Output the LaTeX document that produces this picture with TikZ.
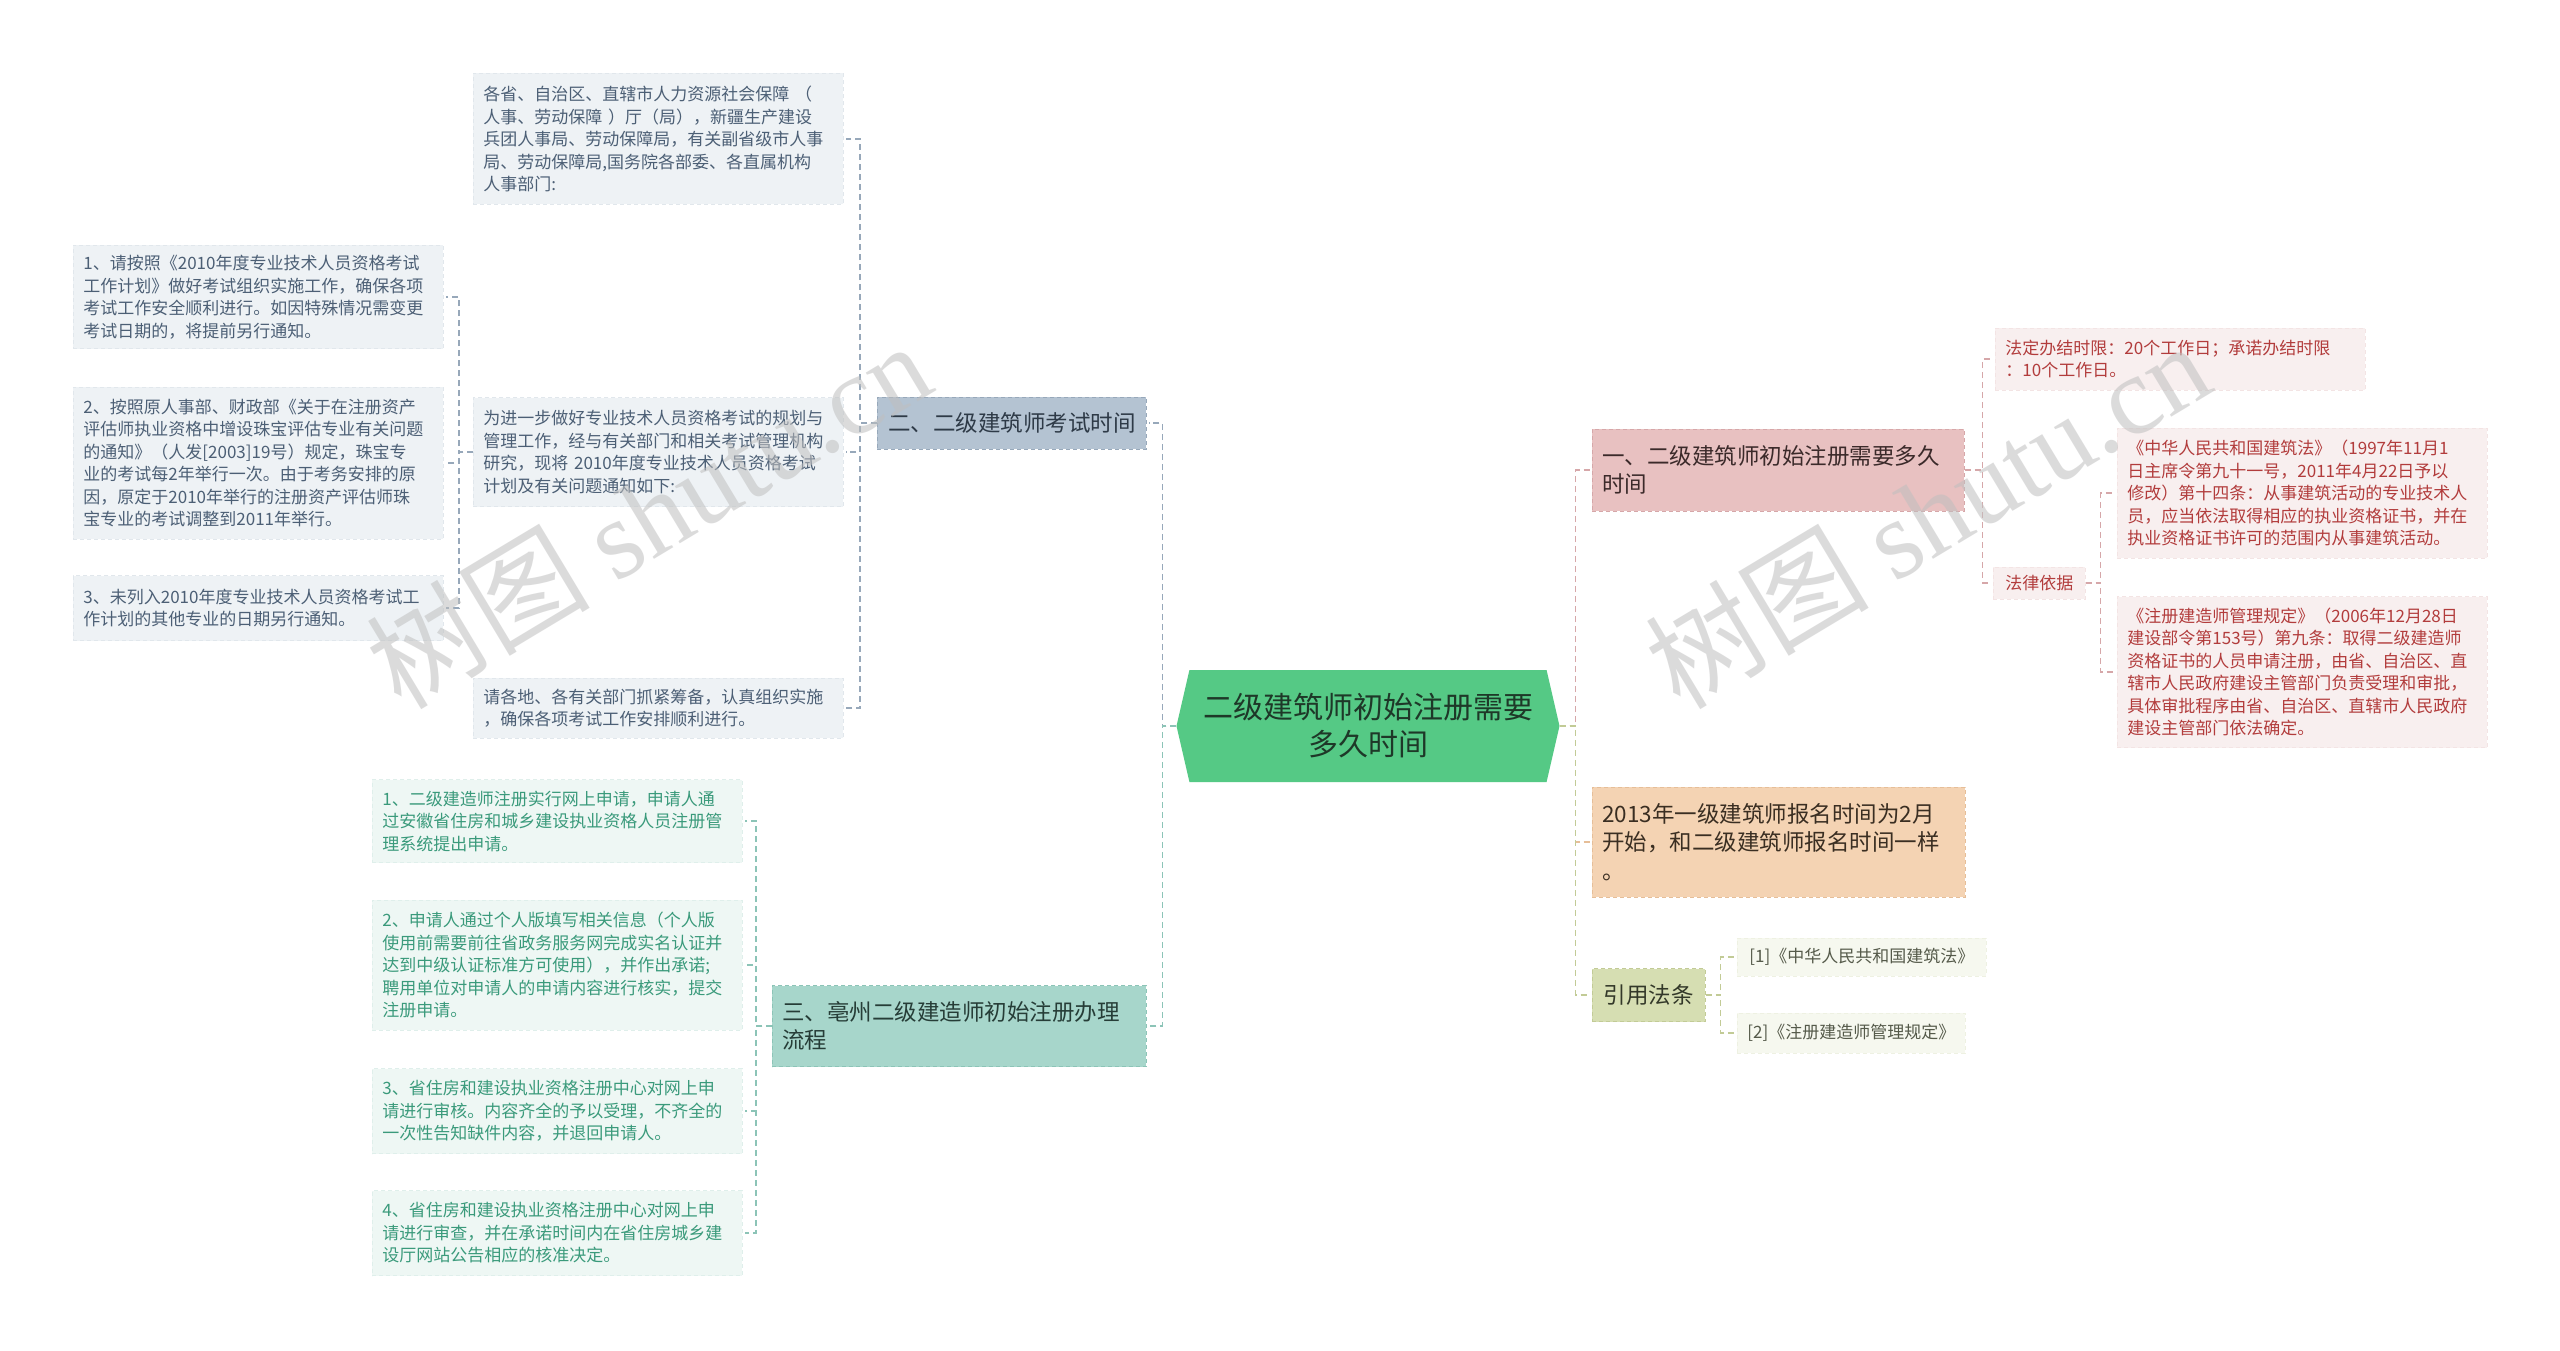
\documentclass[tikz,border=0pt]{standalone}
\usepackage{fontspec}
\setmainfont{Noto Sans CJK SC}
\newfontfamily\wmfont{Liberation Serif}
\usetikzlibrary{shapes.symbols}

\definecolor{rootF}{HTML}{55C985}
\definecolor{rootT}{HTML}{1E3828}
\definecolor{blueF}{HTML}{B4C3D2}
\definecolor{blueD}{HTML}{97A8BA}
\definecolor{blueT}{HTML}{2E3A47}
\definecolor{blueL}{HTML}{EEF2F5}
\definecolor{blueLT}{HTML}{4C5F75}
\definecolor{tealF}{HTML}{A7D6CB}
\definecolor{tealD}{HTML}{8CC4B7}
\definecolor{tealT}{HTML}{263D37}
\definecolor{tealL}{HTML}{EEF7F4}
\definecolor{tealLT}{HTML}{3A9A7B}
\definecolor{pinkF}{HTML}{E8C1C1}
\definecolor{pinkD}{HTML}{D6A7A9}
\definecolor{pinkT}{HTML}{3B2A2A}
\definecolor{pinkL}{HTML}{F8EFEF}
\definecolor{pinkLT}{HTML}{B23C3C}
\definecolor{peachF}{HTML}{F4D3B3}
\definecolor{peachD}{HTML}{E6BE98}
\definecolor{peachT}{HTML}{3A2E22}
\definecolor{khakiF}{HTML}{D6DEB2}
\definecolor{khakiD}{HTML}{C2CB96}
\definecolor{khakiT}{HTML}{333829}
\definecolor{khakiL}{HTML}{F6F8EF}
\definecolor{khakiLT}{HTML}{555A4A}

\begin{document}
\begin{tikzpicture}[x=1pt,y=-1pt,
    box/.style={anchor=west, align=left, inner xsep=10pt, inner ysep=4pt, line width=0.8pt, dash pattern=on 4pt off 3pt},
    topic/.style={box, font={\fontsize{22.5}{28.5}\selectfont}},
    leaf/.style={box, font={\fontsize{17}{22.5}\selectfont}, text width=350pt},
    blueleaf/.style={leaf, fill=blueL, draw=blueL!85!blueD, text=blueLT},
    tealleaf/.style={leaf, fill=tealL, draw=tealL!85!tealD, text=tealLT},
    pinkleaf/.style={leaf, fill=pinkL, draw=pinkL!85!pinkD, text=pinkLT},
    khakileaf/.style={box, font={\fontsize{17}{22.5}\selectfont}, fill=khakiL, draw=khakiL!85!khakiD, text=khakiLT},
    conn/.style={dash pattern=on 6pt off 4pt, line width=1.3pt, shorten >=2pt},
    wm/.style={text=black!25, opacity=0.55, font={\fontsize{112}{112}\selectfont}}]

\useasboundingbox[fill=white] (0,0) rectangle (2560,1351);

% centre
\node[shape=signal, signal to=west and east, signal pointer angle=154, fill=rootF, text=rootT,
      minimum width=383pt, minimum height=112pt, inner sep=0pt, align=center,
      font={\fontsize{30}{37}\selectfont}] (root) at (1368,726) {二级建筑师初始注册需要\\多久时间};

% left branches
\node[topic, fill=blueF, draw=blueD, text=blueT, minimum width=269pt, minimum height=52pt] (two) at (877,423) {二、二级建筑师考试时间};
\node[topic, fill=tealF, draw=tealD, text=tealT, text width=354pt, minimum height=81pt] (three) at (772,1026) {三、亳州二级建造师初始注册办理\\流程};

\node[blueleaf, minimum height=131pt] (A) at (473,139) {各省、自治区、直辖市人力资源社会保障 （\\人事、劳动保障 ）厅（局），新疆生产建设\\兵团人事局、劳动保障局，有关副省级市人事\\局、劳动保障局,国务院各部委、各直属机构\\人事部门:};
\node[blueleaf, minimum height=109pt] (B) at (473,452) {为进一步做好专业技术人员资格考试的规划与\\管理工作，经与有关部门和相关考试管理机构\\研究，现将 2010年度专业技术人员资格考试\\计划及有关问题通知如下:};
\node[blueleaf, minimum height=60pt] (C) at (473,708) {请各地、各有关部门抓紧筹备，认真组织实施\\，确保各项考试工作安排顺利进行。};

\node[blueleaf, minimum height=103pt] (B1) at (73,297) {1、请按照《2010年度专业技术人员资格考试\\工作计划》做好考试组织实施工作，确保各项\\考试工作安全顺利进行。如因特殊情况需变更\\考试日期的，将提前另行通知。};
\node[blueleaf, minimum height=152pt] (B2) at (73,463) {2、按照原人事部、财政部《关于在注册资产\\评估师执业资格中增设珠宝评估专业有关问题\\的通知》（人发[2003]19号）规定，珠宝专\\业的考试每2年举行一次。由于考务安排的原\\因，原定于2010年举行的注册资产评估师珠\\宝专业的考试调整到2011年举行。};
\node[blueleaf, minimum height=65pt] (B3) at (73,608) {3、未列入2010年度专业技术人员资格考试工\\作计划的其他专业的日期另行通知。};

\node[tealleaf, minimum height=83pt] (T1) at (372,821) {1、二级建造师注册实行网上申请，申请人通\\过安徽省住房和城乡建设执业资格人员注册管\\理系统提出申请。};
\node[tealleaf, minimum height=130pt] (T2) at (372,965) {2、申请人通过个人版填写相关信息（个人版\\使用前需要前往省政务服务网完成实名认证并\\达到中级认证标准方可使用），并作出承诺;\\聘用单位对申请人的申请内容进行核实，提交\\注册申请。};
\node[tealleaf, minimum height=85pt] (T3) at (372,1111) {3、省住房和建设执业资格注册中心对网上申\\请进行审核。内容齐全的予以受理，不齐全的\\一次性告知缺件内容，并退回申请人。};
\node[tealleaf, minimum height=85pt] (T4) at (372,1233) {4、省住房和建设执业资格注册中心对网上申\\请进行审查，并在承诺时间内在省住房城乡建\\设厅网站公告相应的核准决定。};

% right branches
\node[topic, fill=pinkF, draw=pinkD, text=pinkT, text width=352pt, minimum height=82pt] (one) at (1592,470) {一、二级建筑师初始注册需要多久\\时间};
\node[topic, fill=peachF, draw=peachD, text=peachT, text width=353pt, minimum height=110pt] (y2013) at (1592,842) {2013年一级建筑师报名时间为2月\\开始，和二级建筑师报名时间一样\\。};
\node[topic, fill=khakiF, draw=khakiD, text=khakiT, minimum width=113pt, minimum height=53pt] (cite) at (1592,995) {引用法条};

\node[pinkleaf, minimum height=62pt] (lim) at (1995,359) {法定办结时限：20个工作日；承诺办结时限\\：10个工作日。};
\node[pinkleaf, text width={}, minimum width=92pt, minimum height=32pt] (basis) at (1993,583) {法律依据};
\node[pinkleaf, minimum height=130pt] (L1) at (2117,493) {《中华人民共和国建筑法》（1997年11月1\\日主席令第九十一号，2011年4月22日予以\\修改）第十四条：从事建筑活动的专业技术人\\员，应当依法取得相应的执业资格证书，并在\\执业资格证书许可的范围内从事建筑活动。};
\node[pinkleaf, minimum height=151pt] (L2) at (2117,672) {《注册建造师管理规定》（2006年12月28日\\建设部令第153号）第九条：取得二级建造师\\资格证书的人员申请注册，由省、自治区、直\\辖市人民政府建设主管部门负责受理和审批，\\具体审批程序由省、自治区、直辖市人民政府\\建设主管部门依法确定。};

\node[khakileaf, minimum width=249pt, minimum height=38pt] (R1) at (1737,957) {[1]《中华人民共和国建筑法》};
\node[khakileaf, minimum width=223pt, minimum height=40pt] (R2) at (1737,1033) {[2]《注册建造师管理规定》};

% connectors
\draw[conn, blueD] (root.west) -- ++(-14,0) |- (two.east);
\draw[conn, tealD] (root.west) -- ++(-14,0) |- (three.east);
\draw[conn, pinkD] (root.east) -- ++(16,0) |- (one.west);
\draw[conn, peachD] (root.east) -- ++(16,0) |- (y2013.west);
\draw[conn, khakiD] (root.east) -- ++(16,0) |- (cite.west);

\draw[conn, blueD] (two.west) -- ++(-17,0) |- (A.east);
\draw[conn, blueD] (two.west) -- ++(-17,0) |- (B.east);
\draw[conn, blueD] (two.west) -- ++(-17,0) |- (C.east);
\draw[conn, blueD] (B.west) -- ++(-14,0) |- (B1.east);
\draw[conn, blueD] (B.west) -- ++(-14,0) |- (B2.east);
\draw[conn, blueD] (B.west) -- ++(-14,0) |- (B3.east);

\draw[conn, tealD] (three.west) -- ++(-16,0) |- (T1.east);
\draw[conn, tealD] (three.west) -- ++(-16,0) |- (T2.east);
\draw[conn, tealD] (three.west) -- ++(-16,0) |- (T3.east);
\draw[conn, tealD] (three.west) -- ++(-16,0) |- (T4.east);

\draw[conn, pinkD] (one.east) -- ++(18,0) |- (lim.west);
\draw[conn, pinkD] (one.east) -- ++(18,0) |- (basis.west);
\draw[conn, pinkD] (basis.east) -- ++(15,0) |- (L1.west);
\draw[conn, pinkD] (basis.east) -- ++(15,0) |- (L2.west);

\draw[conn, khakiD] (cite.east) -- ++(15,0) |- (R1.west);
\draw[conn, khakiD] (cite.east) -- ++(15,0) |- (R2.west);

% watermark
\node[wm, rotate=31] (wmL) at (648,514) {树图 {\wmfont shutu.cn}};
\node[wm, rotate=31] (wmR) at (1927,514) {树图 {\wmfont shutu.cn}};
\end{tikzpicture}
\end{document}
